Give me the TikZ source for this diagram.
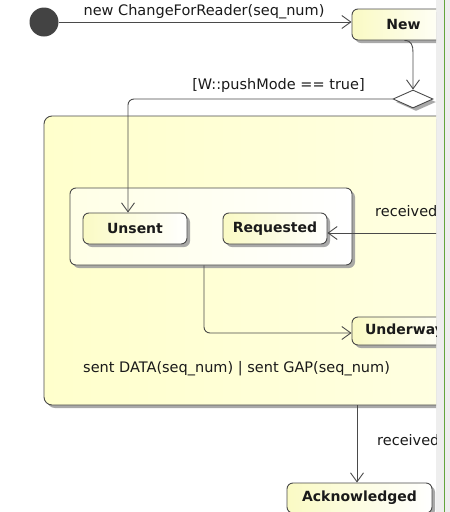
\documentclass[tikz,border=0pt]{standalone}
\usepackage{fontspec}
\setmainfont{DejaVu Sans}
\usetikzlibrary{arrows.meta,shapes.geometric,shadows}
\definecolor{edge}{HTML}{4A4A4A}
\definecolor{txt}{HTML}{1A1A1A}
\definecolor{ylw}{HTML}{FAFAC4}
\definecolor{ylwlight}{HTML}{FFFFE6}
\definecolor{compA}{HTML}{FFFFCC}
\definecolor{compB}{HTML}{FFFFE4}
\definecolor{shadowc}{HTML}{A0A0A0}
\definecolor{initc}{HTML}{434343}
\definecolor{strip}{HTML}{EEEEEE}
\definecolor{splitter}{HTML}{62A43C}
\tikzset{
  base/.style={draw=edge, line width=0.9pt, rounded corners=6pt, inner sep=0pt,
    drop shadow={shadow xshift=3pt, shadow yshift=-3pt, fill=shadowc, opacity=0.9}},
  state/.style={base, left color=ylw, right color=white,
    font=\fontsize{14}{16}\selectfont\bfseries, text=txt},
  composite/.style={base, left color=compA, right color=compB, rounded corners=8pt},
  region/.style={base, left color=ylwlight, right color=white},
  arr/.style={draw=edge, line width=0.9pt, -{Straight Barb[length=9pt,width=13pt]}},
  lbl/.style={font=\fontsize{14.5}{17}\selectfont, text=txt, inner sep=0pt},
  choice/.style={diamond, draw=edge, fill=white, line width=0.9pt, aspect=2.2,
    minimum width=40pt, minimum height=18pt, inner sep=0pt,
    drop shadow={shadow xshift=3pt, shadow yshift=-3pt, fill=shadowc, opacity=0.9}},
  start/.style={circle, fill=initc, minimum size=29pt, inner sep=0pt}
}
\begin{document}
\begin{tikzpicture}[x=1pt,y=-1pt]
\useasboundingbox (0,0) rectangle (450,512);
\fill[white] (0,0) rectangle (450,512);
\fill[strip] (436,0) rectangle (450,512);
\draw[splitter, line width=1.2pt] (444.5,0) -- (444.5,512);
\begin{scope}
\clip (0,0) rectangle (436,512);
% nodes
\node[start] (init) at (44,22) {};
\node[state, minimum width=103pt, minimum height=31pt] (New) at (403.5,24.5) {New};
\node[choice] (dia) at (413,99) {};
\node[composite, minimum width=450pt, minimum height=289pt] (comp) at (269,260.5) {};
\node[region, minimum width=282pt, minimum height=77pt] (inner) at (211,226.5) {};
\node[state, minimum width=104pt, minimum height=31pt] (Unsent) at (135,228.5) {Unsent};
\node[state, minimum width=104pt, minimum height=31pt] (Requested) at (275,228.5) {Requested};
\node[state, minimum width=105pt, minimum height=28pt] (Underway) at (404.5,331) {Underway};
\node[state, minimum width=145pt, minimum height=30pt] (Ack) at (359.5,498) {Acknowledged};
\coordinate (rq) at (480,233);
\coordinate (bend) at ([yshift=-12pt]dia.north |- New.south);
% labels
\node[lbl, anchor=base] (l1) at (204,15.3) {new ChangeForReader(seq\_num)};
\node[lbl, anchor=base] (l2) at (278.5,89.3) {[W::pushMode == true]};
\node[lbl, anchor=base west] (l3) at (375,216.5) {received};
\node[lbl, anchor=base west] (l4) at (83,372) {sent DATA(seq\_num) | sent GAP(seq\_num)};
\node[lbl, anchor=base west] (l5) at (377,445.5) {received};
% connectors
\draw[arr] (init.east) -- (init.east -| New.west);
\draw[arr] ([xshift=1pt]New.south) .. controls +(7,0) and +(0,-7) .. (bend) -- (dia.north);
\draw[arr, rounded corners=6pt] (dia.west) -| ([xshift=-7pt]Unsent.north);
\draw[arr] (rq) -- (rq -| Requested.east);
\draw[arr, rounded corners=6pt] ([xshift=-7pt]inner.south) |- ([yshift=-2pt]Underway.west);
\draw[arr] ([xshift=-2.5pt]Ack.north |- comp.south) -- ([xshift=-2.5pt]Ack.north);
\end{scope}
\end{tikzpicture}
\end{document}
